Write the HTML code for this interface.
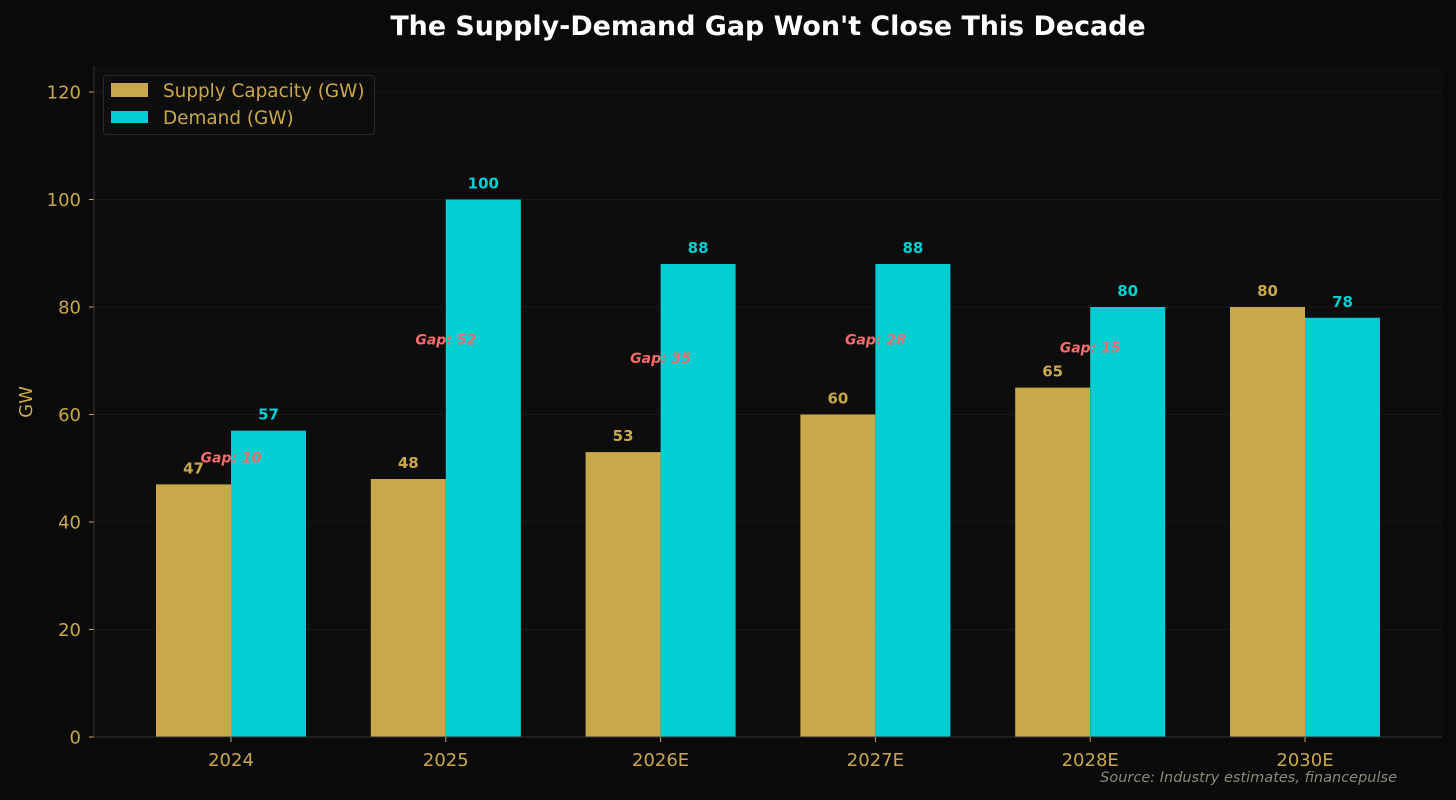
<!DOCTYPE html>
<html><head><meta charset="utf-8"><style>
html,body{margin:0;padding:0;background:#0a0a0a;}
svg{display:block;font-family:"DejaVu Sans","Liberation Sans",sans-serif;}
</style></head><body>
<svg id="chart" width="1456" height="800" viewBox="0 0 1456 800">
<rect x="0" y="0" width="1456" height="800" fill="#0a0a0a"/>
<rect x="94" y="66" width="1348" height="671" fill="#0d0d0d"/>
<text x="768" y="35" text-anchor="middle" fill="#ffffff" font-size="26.9" font-weight="bold">The Supply-Demand Gap Won't Close This Decade</text>
<g id="grid"></g><g id="bars"></g><g id="axes"></g>
<text transform="translate(32,402) rotate(-90)" text-anchor="middle" fill="#c9a84c" font-size="18">GW</text>
<text x="1397" y="782" text-anchor="end" fill="#8a8a7a" font-size="14.5" font-style="italic">Source: Industry estimates, financepulse</text>
<g>
<rect x="103.5" y="75.5" width="271" height="59" rx="3" fill="#0d0d0d" stroke="#2a2a2a"/>
<rect x="111" y="83" width="37" height="14" fill="#c9a84c"/>
<text x="163" y="97" fill="#c9a84c" font-size="18.4">Supply Capacity (GW)</text>
<rect x="111" y="111" width="37" height="12" fill="#00ced1"/>
<text x="163" y="124" fill="#c9a84c" font-size="18.4">Demand (GW)</text>
</g>
</svg>
<script>
const categories=["2024","2025","2026E","2027E","2028E","2030E"];
const supply=[47,48,53,60,65,80];
const demand=[57,100,88,88,80,78];
const yTicks=[0,20,40,60,80,100,120];
const NS="http://www.w3.org/2000/svg";
const x0=94,x1=1442,yBase=737,yTop=92,yMax=120;
const y=v=>yBase-(yBase-yTop)*v/yMax;
const step=214.8,first=231;
const xc=i=>first+i*step;
const bw=75;
function mk(tag,attrs,parent,txt){const e=document.createElementNS(NS,tag);for(const k in attrs)e.setAttribute(k,attrs[k]);if(txt!==undefined)e.textContent=txt;parent.appendChild(e);return e;}
const grid=document.getElementById('grid'),bars=document.getElementById('bars'),axes=document.getElementById('axes');
yTicks.forEach(t=>{
 const g=mk('line',{x1:x0,x2:x1,y1:y(t),y2:y(t),stroke:'#181818','stroke-width':1},grid);
 
 
 const tk=mk('line',{x1:x0-5,x2:x0,y1:y(t),y2:y(t),stroke:'#c9a84c'},axes);
 
 
 const l=mk('text',{x:x0-13,y:y(t)+6.5,'text-anchor':'end',fill:'#c9a84c','font-size':18},axes,String(t));
 
 
});
const ax=mk('line',{x1:x0,x2:x0,y1:66,y2:yBase,stroke:'#333'},axes);


const bx=mk('line',{x1:x0,x2:x1,y1:yBase,y2:yBase,stroke:'#333'},axes);


categories.forEach((c,i)=>{
 const cx=xc(i);
 const s=mk('rect',{x:cx-bw,y:y(supply[i]),width:bw,height:yBase-y(supply[i]),fill:'#c9a84c'},bars);
 
 
 const d=mk('rect',{x:cx,y:y(demand[i]),width:bw,height:yBase-y(demand[i]),fill:'#00ced1'},bars);
 
 
 const sl=mk('text',{x:cx-bw/2,y:y(supply[i])-11,'text-anchor':'middle',fill:'#c9a84c','font-size':15,'font-weight':'bold'},bars,String(supply[i]));
 
 
 const dl=mk('text',{x:cx+bw/2,y:y(demand[i])-11,'text-anchor':'middle',fill:'#00ced1','font-size':15,'font-weight':'bold'},bars,String(demand[i]));
 
 
 const gap=demand[i]-supply[i];
 if(gap>0){
  const gl=mk('text',{x:cx,y:y((supply[i]+demand[i])/2)+5,'text-anchor':'middle',fill:'#ff6b6b','font-size':14,'font-weight':'bold','font-style':'italic'},bars,'Gap: '+gap);
  
  
 }
 const tk=mk('line',{x1:cx,x2:cx,y1:yBase,y2:yBase+5,stroke:'#c9a84c'},axes);
 
 
 const xl=mk('text',{x:cx,y:yBase+29,'text-anchor':'middle',fill:'#c9a84c','font-size':18},axes,c);
 
 
});
</script>
</body></html>
